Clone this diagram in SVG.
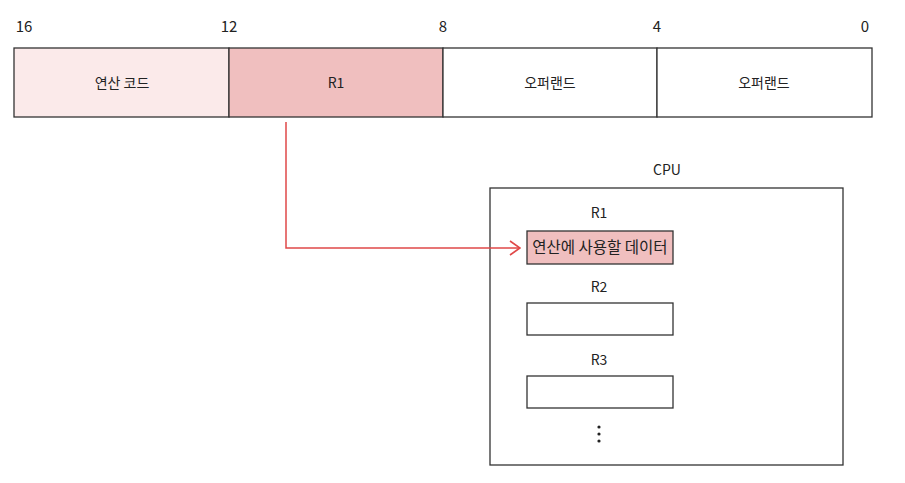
<svg xmlns="http://www.w3.org/2000/svg" width="905" height="483" viewBox="0 0 905 483">
<style>
text{font-family:"Noto Sans CJK KR","Noto Sans",sans-serif;fill:#222;text-anchor:middle}
.bit{font-size:15px}
.lbl{font-size:14px}
.data{font-size:15.5px}
.box{stroke:#333;stroke-width:1.3}
</style>
<defs>
<marker id="arr" viewBox="0 0 12 16" refX="11" refY="8" markerWidth="12" markerHeight="16" markerUnits="userSpaceOnUse" orient="auto">
<path d="M1,1 L11,8 L1,15" fill="none" stroke="#e04848" stroke-width="1.6"/>
</marker>
</defs>
<rect width="905" height="483" fill="#fff"/>
<g id="bits">
<text class="bit" x="24" y="32">16</text>
<text class="bit" x="229" y="32">12</text>
<text class="bit" x="443" y="32">8</text>
<text class="bit" x="657" y="32">4</text>
<text class="bit" x="865" y="32">0</text>
</g>
<g id="opcode"><rect class="box" x="14" y="48" width="215" height="69" fill="#fbeaea"/><text class="lbl" x="122" y="88">연산 코드</text></g>
<g id="r1field"><rect class="box" x="229" y="48" width="214" height="69" fill="#f0bfbf"/><text class="lbl" x="336" y="88">R1</text></g>
<g id="operand1"><rect class="box" x="443" y="48" width="214" height="69" fill="#fff"/><text class="lbl" x="550" y="88">오퍼랜드</text></g>
<g id="operand2"><rect class="box" x="657" y="48" width="215" height="69" fill="#fff"/><text class="lbl" x="764" y="88">오퍼랜드</text></g>
<g id="cpu">
<rect class="box" x="490" y="188" width="353" height="277" fill="#fff"/>
<text class="lbl" x="667" y="175">CPU</text>
</g>
<g id="reg1"><text class="lbl" x="599" y="218">R1</text><rect class="box" x="527" y="231" width="146" height="33" fill="#f0bfbf"/><text class="data" x="600" y="253">연산에 사용할 데이터</text></g>
<g id="reg2"><text class="lbl" x="599" y="292">R2</text><rect class="box" x="527" y="303" width="146" height="32" fill="#fff"/></g>
<g id="reg3"><text class="lbl" x="599" y="365">R3</text><rect class="box" x="527" y="376" width="146" height="32" fill="#fff"/></g>
<g id="more" fill="#222"><circle cx="599" cy="427" r="1.6"/><circle cx="599" cy="434" r="1.6"/><circle cx="599" cy="441" r="1.6"/></g>
<g id="connectors">
<path d="M286,122 V248 H520" fill="none" stroke="#e04848" stroke-width="1.5" marker-end="url(#arr)"/>
</g>
</svg>
